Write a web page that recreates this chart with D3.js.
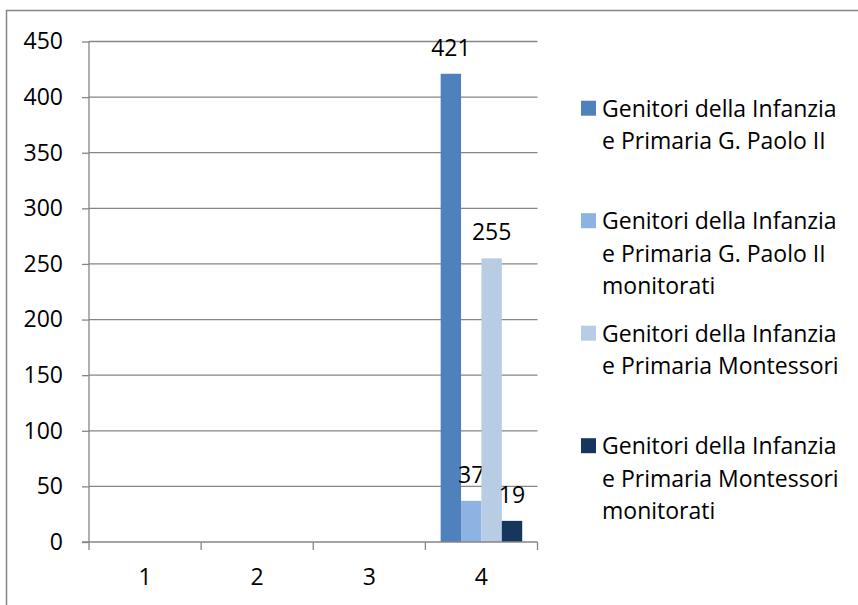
<!DOCTYPE html>
<html>
<head>
<meta charset="utf-8">
<script src="https://cdn.jsdelivr.net/npm/d3@7"></script>
<style>
  body { margin: 0; background: #fff; }
  svg { display: block; font-family: "Open Sans", sans-serif; }
</style>
</head>
<body>
<svg width="858" height="605"></svg>
<script>
// data
var categories = ['1', '2', '3', '4'];
var seriesNames = [
  ['Genitori della Infanzia', 'e Primaria G. Paolo II'],
  ['Genitori della Infanzia', 'e Primaria G. Paolo II', 'monitorati'],
  ['Genitori della Infanzia', 'e Primaria Montessori'],
  ['Genitori della Infanzia', 'e Primaria Montessori', 'monitorati']
];
var seriesColors = ['#4F81BD', '#8DB3E2', '#B8CCE4', '#17365D'];
// values per series, one per category (null = no bar)
var gpII = [null, null, null, 421];
var gpIIMonitorati = [null, null, null, 37];
var montessori = [null, null, null, 255];
var montessoriMonitorati = [null, null, null, 19];
var yTicks = [0, 50, 100, 150, 200, 250, 300, 350, 400, 450];

var seriesValues = [gpII, gpIIMonitorati, montessori, montessoriMonitorati];

var svg = d3.select('svg');
var plot = {l: 89, r: 537.5, t: 41.5, b: 542};
var gridColor = '#868686';
var fontSize = 23;

// outer chart border
svg.append('rect')
  .attr('x', 6.5).attr('y', 10.5)
  .attr('width', 900).attr('height', 700)
  .attr('fill', 'none')
  .attr('stroke', gridColor)
  .attr('stroke-width', 1.5);

var y = d3.scaleLinear().domain([0, 450]).range([plot.b, plot.t]);
var x0 = d3.scaleBand().domain(categories).range([plot.l, plot.r]).padding(0);
var x1 = d3.scaleBand().domain(d3.range(seriesValues.length))
  .range([0, x0.bandwidth()]).paddingInner(0).paddingOuter(0.75);

// gridlines + y axis labels
var yAxis = svg.append('g')
  .attr('transform', 'translate(' + plot.l + ',0)')
  .call(d3.axisLeft(y).tickValues(yTicks).tickSize(7).tickPadding(19));
yAxis.select('.domain').remove();
yAxis.selectAll('line').attr('stroke', gridColor).attr('stroke-width', 1.3);
yAxis.selectAll('text')
  .attr('font-size', fontSize).attr('fill', '#000')
  .attr('font-family', '"Open Sans", sans-serif');

svg.append('g').selectAll('line')
  .data(yTicks.filter(function(d) { return d > 0; }))
  .enter().append('line')
  .attr('x1', plot.l).attr('x2', plot.r)
  .attr('y1', function(d) { return y(d); })
  .attr('y2', function(d) { return y(d); })
  .attr('stroke', gridColor).attr('stroke-width', 1.3);

// vertical axis line
svg.append('line')
  .attr('x1', plot.l).attr('x2', plot.l)
  .attr('y1', y(450)).attr('y2', plot.b)
  .attr('stroke', gridColor).attr('stroke-width', 1.3);

// bars
var groups = svg.append('g').selectAll('g')
  .data(seriesValues)
  .enter().append('g')
  .attr('fill', function(d, i) { return seriesColors[i]; });

groups.each(function(vals, si) {
  var g = d3.select(this);
  var pts = vals.map(function(v, ci) { return {v: v, c: categories[ci], s: si}; })
    .filter(function(p) { return p.v != null; });
  g.selectAll('rect').data(pts).enter().append('rect')
    .attr('x', function(p) { return x0(p.c) + x1(p.s); })
    .attr('width', x1.bandwidth())
    .attr('y', function(p) { return y(p.v); })
    .attr('height', function(p) { return y(0) - y(p.v); });
  g.selectAll('text').data(pts).enter().append('text')
    .attr('x', function(p) { return x0(p.c) + x1(p.s) + x1.bandwidth() / 2; })
    .attr('y', function(p) { return y(p.v) - 18; })
    .attr('text-anchor', 'middle')
    .attr('font-size', fontSize)
    .attr('fill', '#000')
    .text(function(p) { return p.v; });
});

// x axis line, ticks at category boundaries, labels at centres
svg.append('line')
  .attr('x1', plot.l - 7).attr('x2', plot.r)
  .attr('y1', plot.b).attr('y2', plot.b)
  .attr('stroke', gridColor).attr('stroke-width', 1.3);

var bounds = categories.map(function(c) { return x0(c); }).concat([plot.r]);
svg.append('g').selectAll('line')
  .data(bounds).enter().append('line')
  .attr('x1', function(d) { return d; }).attr('x2', function(d) { return d; })
  .attr('y1', plot.b).attr('y2', plot.b + 8)
  .attr('stroke', gridColor).attr('stroke-width', 1.3);

svg.append('g').selectAll('text')
  .data(categories).enter().append('text')
  .attr('x', function(c) { return x0(c) + x0.bandwidth() / 2; })
  .attr('y', 585)
  .attr('text-anchor', 'middle')
  .attr('font-size', fontSize)
  .attr('fill', '#000')
  .text(function(c) { return c; });

// legend
var legendX = 581, legendTop = 116.7, legendStep = 112.5, lineH = 32.5;
var legend = svg.append('g').selectAll('g')
  .data(seriesNames).enter().append('g')
  .attr('transform', function(d, i) { return 'translate(' + legendX + ',' + (legendTop + i * legendStep) + ')'; });

legend.append('rect')
  .attr('x', 0).attr('y', -16)
  .attr('width', 15).attr('height', 15)
  .attr('fill', function(d, i) { return seriesColors[i]; });

legend.append('text')
  .attr('x', 21)
  .attr('font-size', fontSize)
  .attr('fill', '#000')
  .selectAll('tspan')
  .data(function(d) { return d; })
  .enter().append('tspan')
  .attr('x', 21)
  .attr('y', function(d, i) { return i * lineH; })
  .text(function(d) { return d; });
</script>
</body>
</html>
